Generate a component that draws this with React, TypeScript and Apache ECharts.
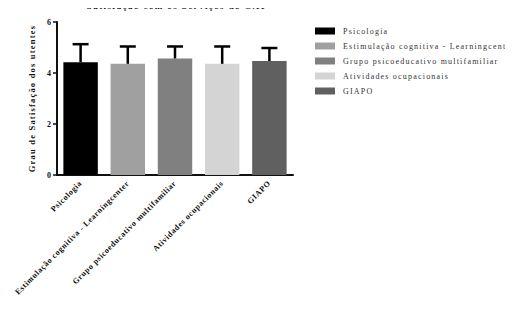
import React, { useEffect, useRef } from "react";
import * as echarts from "echarts";

const categories = [
  "Psicologia",
  "Estimulação cognitiva - Learningcenter",
  "Grupo psicoeducativo multifamiliar",
  "Atividades ocupacionais",
  "GIAPO",
];
const legendNames = [
  "Psicologia",
  "Estimulação cognitiva - Learningcenter",
  "Grupo psicoeducativo multifamiliar",
  "Atividades ocupacionais",
  "GIAPO",
];
const means = [4.42, 4.36, 4.57, 4.36, 4.47];
const upperErrors = [5.13, 5.04, 5.04, 5.04, 4.98];
const colors = ["#000000", "#a0a0a0", "#808080", "#d4d4d4", "#606060"];
const yTicks = { min: 0, max: 6, interval: 2 };

const FONT = "'Liberation Serif', 'DejaVu Serif', serif";

export default function App() {
  const ref = useRef<HTMLDivElement>(null);
  useEffect(() => {
    if (!ref.current) return;
    const chart = echarts.init(ref.current, null, { renderer: "svg" });
    const barSeries = legendNames.map((name, i) => ({
      name,
      type: "bar",
      data: categories.map((_, j) => (j === i ? means[j] : "-")),
      barWidth: "73%",
      barGap: "-100%",
      itemStyle: { color: colors[i] },
      z: 2,
    }));
    const errData = categories.map((_, i) => [i, means[i], upperErrors[i]]);
    chart.setOption({
      animation: false,
      title: {
        text: "Satisfação com os Serviços do CAT",
        left: 177,
        textAlign: "center",
        top: 1,
        padding: 0,
        textStyle: { fontFamily: FONT, fontSize: 9, fontWeight: "bold", color: "#111" },
      },
      legend: {
        orient: "vertical",
        left: 315,
        top: 27,
        padding: 0,
        itemWidth: 20,
        itemHeight: 7,
        itemGap: 7,
        icon: "rect",
        data: legendNames,
        textStyle: { fontFamily: FONT, fontSize: 8, color: "#333", padding: [0, 0, 0, 3] },
      },
      grid: { left: 57, right: 220, top: 22, bottom: 154, containLabel: false },
      xAxis: {
        type: "category",
        data: categories,
        axisLine: { lineStyle: { color: "#111", width: 2 } },
        axisTick: { alignWithLabel: true, length: 4, lineStyle: { color: "#111", width: 1.5 } },
        axisLabel: {
          interval: 0,
          rotate: 45,
          margin: 7,
          fontFamily: FONT,
          fontSize: 8,
          fontWeight: "bold",
          color: "#111",
        },
      },
      yAxis: {
        type: "value",
        min: yTicks.min,
        max: yTicks.max,
        interval: yTicks.interval,
        name: "Grau de Satisfação dos utentes",
        nameLocation: "middle",
        nameGap: 21,
        nameTextStyle: { fontFamily: FONT, fontSize: 8.5, fontWeight: "bold", color: "#111" },
        axisLine: { show: true, lineStyle: { color: "#111", width: 2 } },
        axisTick: { show: true, length: 4, lineStyle: { color: "#111", width: 1.5 } },
        splitLine: { show: false },
        axisLabel: { fontFamily: FONT, fontSize: 8, fontWeight: "bold", color: "#111", margin: 6 },
      },
      series: [
        ...barSeries,
        {
          type: "custom",
          name: "err",
          data: errData,
          z: 5,
          renderItem: (params: any, api: any) => {
            const x = api.value(0);
            const lo = api.coord([x, api.value(1)]);
            const hi = api.coord([x, api.value(2)]);
            const half = 8;
            const style = { stroke: "#000", lineWidth: 2.5 };
            return {
              type: "group",
              children: [
                { type: "line", shape: { x1: lo[0], y1: lo[1], x2: hi[0], y2: hi[1] }, style },
                { type: "line", shape: { x1: hi[0] - half, y1: hi[1], x2: hi[0] + half, y2: hi[1] }, style },
              ],
            };
          },
        },
      ],
    });
    const texts = ref.current.querySelectorAll("text");
    texts.forEach((t) => {
      const s = t.textContent || "";
      if (s.length <= 1) return;
      const isBold = /bold/.test(t.outerHTML);
      let sp = "1.2";
      if (s.startsWith("Satisfa")) sp = "1.4";
      else if (isBold && categories.includes(s)) sp = "0.6";
      t.setAttribute("letter-spacing", sp);
    });
    return () => chart.dispose();
  }, []);
  return <div ref={ref} style={{ width: 513, height: 329, margin: -8 }} />;
}
